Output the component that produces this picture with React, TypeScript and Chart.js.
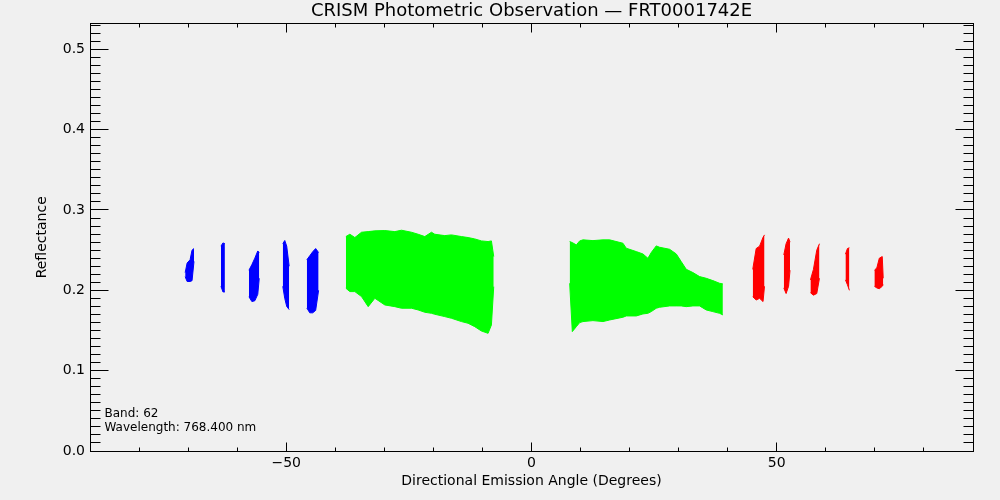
import { useEffect, useRef } from 'react';
import { Chart, registerables } from 'chart.js';

Chart.register(...registerables);

// Axis ticks and labels
const xTickValues = [-50, 0, 50];
const xTickLabels = ['\u221250', '0', '50'];
const yTickValues = [0, 0.1, 0.2, 0.3, 0.4, 0.5];
const yTickLabels = ['0.0', '0.1', '0.2', '0.3', '0.4', '0.5'];

// Blue strips (negative emission angles): column x, lower and upper reflectance
const blue1X = [-70.6, -70.2, -69.6, -69.2, -68.8];
const blue1Lo = [0.217, 0.211, 0.211, 0.212, 0.236];
const blue1Hi = [0.222, 0.234, 0.238, 0.25, 0.252];

const blue2X = [-63.3, -62.9, -62.5];
const blue2Lo = [0.205, 0.198, 0.198];
const blue2Hi = [0.255, 0.259, 0.258];

const blue3X = [-57.6, -57.0, -56.4, -55.8, -55.5];
const blue3Lo = [0.192, 0.186, 0.187, 0.195, 0.215];
const blue3Hi = [0.225, 0.232, 0.24, 0.249, 0.247];

const blue4X = [-50.7, -50.3, -49.9, -49.4];
const blue4Lo = [0.205, 0.19, 0.18, 0.176];
const blue4Hi = [0.258, 0.262, 0.255, 0.23];

const blue5X = [-45.8, -45.2, -44.6, -44.0, -43.4];
const blue5Lo = [0.178, 0.172, 0.172, 0.175, 0.2];
const blue5Hi = [0.238, 0.243, 0.248, 0.252, 0.247];

// Green clouds (near-nadir)
const green1X = [
  -37.84, -37.03, -36.01, -34.65, -33.29, -31.93, -29.9, -27.86, -26.5, -24.47, -23.11, -21.75,
  -20.39, -19.72, -17.68, -16.32, -14.28, -12.93, -11.57, -10.21, -8.85, -8.17, -7.7,
];
const green1Lo = [
  0.2026, 0.1984, 0.1984, 0.1922, 0.1797, 0.1901, 0.1818, 0.1797, 0.1777, 0.1777, 0.1756, 0.1727,
  0.1714, 0.1702, 0.1673, 0.1652, 0.1611, 0.159, 0.1548, 0.1494, 0.1465, 0.1569, 0.2046,
];
const green1Hi = [
  0.2669, 0.2698, 0.2657, 0.2723, 0.2731, 0.274, 0.2744, 0.2731, 0.2748, 0.2723, 0.2698, 0.2669,
  0.2723, 0.2698, 0.2681, 0.269, 0.2669, 0.2657, 0.264, 0.2615, 0.2607, 0.2615, 0.242,
];

const green2X = [
  7.78, 8.32, 9.14, 9.82, 10.5, 12.53, 14.57, 15.93, 18.64, 19.32, 21.36, 22.71, 23.73, 24.41, 25.43,
  26.11, 28.15, 29.51, 30.52, 31.54, 32.9, 34.26, 35.61, 36.97, 38.33, 39.01,
];
const green2Lo = [
  0.2088, 0.1486, 0.1548, 0.1598, 0.1611, 0.1623, 0.1611, 0.1631, 0.1665, 0.1681, 0.1681, 0.1706,
  0.1714, 0.1735, 0.1777, 0.1789, 0.1806, 0.1806, 0.1806, 0.1797, 0.1806, 0.1806, 0.1756, 0.1735,
  0.1714, 0.1694,
];
const green2Hi = [
  0.2607, 0.2594, 0.2565, 0.2615, 0.2628, 0.2619, 0.2628, 0.2628, 0.2586, 0.2524, 0.2482, 0.2453,
  0.2399, 0.247, 0.2553, 0.2536, 0.2511, 0.2453, 0.2358, 0.2262, 0.2221, 0.2171, 0.215, 0.2121,
  0.2088, 0.208,
];

// Red strips (positive emission angles)
const red1X = [45.1, 45.8, 46.5, 47.2, 47.5];
const red1Lo = [0.192, 0.188, 0.19, 0.186, 0.205];
const red1Hi = [0.226, 0.252, 0.255, 0.266, 0.269];

const red2X = [51.43, 51.9, 52.4, 52.7];
const red2Lo = [0.203, 0.196, 0.205, 0.225];
const red2Hi = [0.244, 0.258, 0.265, 0.26];

const red3X = [56.86, 57.47, 58.15, 58.7];
const red3Lo = [0.197, 0.194, 0.196, 0.215];
const red3Hi = [0.213, 0.226, 0.25, 0.258];

const red4X = [64.0, 64.4, 64.8];
const red4Lo = [0.213, 0.207, 0.2];
const red4Hi = [0.245, 0.252, 0.253];

const red5X = [69.9, 70.4, 70.9, 71.5, 71.7];
const red5Lo = [0.205, 0.203, 0.202, 0.205, 0.207];
const red5Hi = [0.225, 0.228, 0.24, 0.242, 0.215];

const BLUE = '#0000ff';
const GREEN = '#00ff00';
const RED = '#ff0000';
const BG = '#f0f0f0';

const clouds = [
  { x: blue1X, lo: blue1Lo, hi: blue1Hi, color: BLUE },
  { x: blue2X, lo: blue2Lo, hi: blue2Hi, color: BLUE },
  { x: blue3X, lo: blue3Lo, hi: blue3Hi, color: BLUE },
  { x: blue4X, lo: blue4Lo, hi: blue4Hi, color: BLUE },
  { x: blue5X, lo: blue5Lo, hi: blue5Hi, color: BLUE },
  { x: green1X, lo: green1Lo, hi: green1Hi, color: GREEN },
  { x: green2X, lo: green2Lo, hi: green2Hi, color: GREEN },
  { x: red1X, lo: red1Lo, hi: red1Hi, color: RED },
  { x: red2X, lo: red2Lo, hi: red2Hi, color: RED },
  { x: red3X, lo: red3Lo, hi: red3Hi, color: RED },
  { x: red4X, lo: red4Lo, hi: red4Hi, color: RED },
  { x: red5X, lo: red5Lo, hi: red5Hi, color: RED },
];

const FONT = "'DejaVu Sans', sans-serif";

// background, inward IDL-style ticks on all four sides, band note
const idlFrame = {
  id: 'idlFrame',
  beforeDraw(chart: Chart) {
    const { ctx, width, height } = chart;
    ctx.save();
    ctx.fillStyle = BG;
    ctx.fillRect(0, 0, width, height);
    ctx.restore();
  },
  afterDraw(chart: Chart) {
    const { ctx, chartArea } = chart;
    const xs = chart.scales.x;
    const ys = chart.scales.y;
    const L = Math.floor(chartArea.left) + 0.5;
    const R = Math.floor(chartArea.right) + 0.5;
    const T = Math.floor(chartArea.top) + 0.5;
    const B = Math.floor(chartArea.bottom) + 0.5;

    ctx.save();
    ctx.strokeStyle = '#000';
    ctx.lineWidth = 1;
    ctx.strokeRect(L, T, R - L, B - T);
    ctx.beginPath();
    for (let v = -90; v <= 90; v += 10) {
      const px = Math.floor(xs.getPixelForValue(v)) + 0.5;
      const len = xTickValues.includes(v) ? 9 : 4;
      ctx.moveTo(px, B);
      ctx.lineTo(px, B - len);
      ctx.moveTo(px, T);
      ctx.lineTo(px, T + len);
    }
    for (let i = 0; i <= 53; i++) {
      const py = Math.floor(ys.getPixelForValue(i / 100)) + 0.5;
      const len = i % 10 === 0 ? 18 : 10;
      ctx.moveTo(L, py);
      ctx.lineTo(L + len, py);
      ctx.moveTo(R, py);
      ctx.lineTo(R - len, py);
    }
    ctx.stroke();

    ctx.fillStyle = '#000';
    ctx.font = `12px ${FONT}`;
    ctx.textAlign = 'left';
    ctx.textBaseline = 'alphabetic';
    ctx.fillText('Band: 62', L + 14, 417);
    ctx.fillText('Wavelength: 768.400 nm', L + 14, 431);
    ctx.restore();
  },
};

export default function App() {
  const canvasRef = useRef<HTMLCanvasElement>(null);

  useEffect(() => {
    document.body.style.margin = '0';
    document.body.style.background = BG;
    if (!canvasRef.current) return;

    const datasets = clouds.flatMap((c) => [
      {
        data: c.x.map((x, i) => ({ x, y: c.lo[i] })),
        borderColor: c.color,
        backgroundColor: c.color,
        borderWidth: 1,
        pointRadius: 0,
        fill: false,
      },
      {
        data: c.x.map((x, i) => ({ x, y: c.hi[i] })),
        borderColor: c.color,
        backgroundColor: c.color,
        borderWidth: 1,
        pointRadius: 0,
        fill: '-1',
      },
    ]);

    const chart = new Chart(canvasRef.current, {
      type: 'line',
      data: { datasets },
      options: {
        animation: false,
        responsive: true,
        maintainAspectRatio: false,
        layout: { padding: { left: 0, right: 27, top: 0, bottom: 0 } },
        plugins: {
          legend: { display: false },
          tooltip: { enabled: false },
          title: {
            display: true,
            text: 'CRISM Photometric Observation \u2014 FRT0001742E',
            fullSize: false,
            color: '#000',
            font: { family: FONT, size: 18, weight: 'normal' },
            padding: { top: 1, bottom: 1 },
          },
        },
        scales: {
          x: {
            type: 'linear',
            min: -90,
            max: 90,
            grid: { display: false, drawTicks: false },
            border: { display: false },
            afterBuildTicks: (scale: any) => {
              scale.ticks = xTickValues.map((value) => ({ value }));
            },
            afterFit: (scale: any) => {
              scale.height = 49;
            },
            ticks: {
              color: '#000',
              font: { family: FONT, size: 14 },
              padding: 4,
              maxRotation: 0,
              autoSkip: false,
              callback: (_v: any, i: number) => xTickLabels[i],
            },
            title: {
              display: true,
              text: 'Directional Emission Angle (Degrees)',
              color: '#000',
              font: { family: FONT, size: 14 },
              padding: { top: 0, bottom: 10 },
            },
          },
          y: {
            type: 'linear',
            min: 0,
            max: 0.532,
            grid: { display: false, drawTicks: false },
            border: { display: false },
            afterBuildTicks: (scale: any) => {
              scale.ticks = yTickValues.map((value) => ({ value }));
            },
            afterFit: (scale: any) => {
              scale.width = 90;
            },
            ticks: {
              color: '#000',
              font: { family: FONT, size: 14 },
              padding: 5,
              autoSkip: false,
              callback: (_v: any, i: number) => yTickLabels[i],
            },
            title: {
              display: true,
              text: 'Reflectance',
              color: '#000',
              font: { family: FONT, size: 14 },
              padding: { top: 34, bottom: 0 },
            },
          },
        },
      },
      plugins: [idlFrame],
    });

    return () => chart.destroy();
  }, []);

  return (
    <div style={{ width: 1000, height: 500, position: 'relative' }}>
      <canvas ref={canvasRef} />
    </div>
  );
}
